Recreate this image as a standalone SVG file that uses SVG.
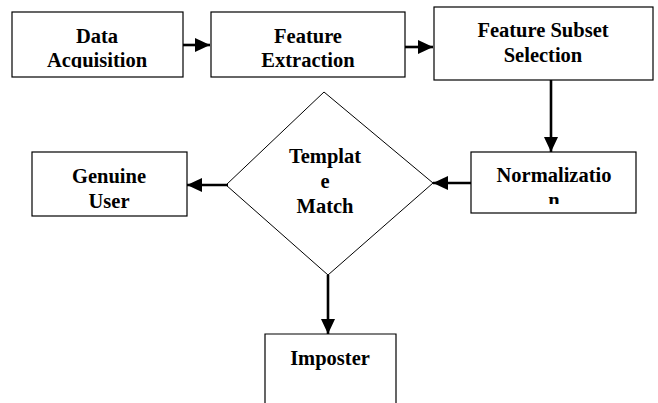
<svg xmlns="http://www.w3.org/2000/svg" width="658" height="403" viewBox="0 0 658 403">
<style>
.box{fill:#fff;stroke:#000;stroke-width:1.2}
.dia{fill:none;stroke:#000;stroke-width:1}
.t{font-family:'Liberation Serif','Times New Roman','DejaVu Serif',serif;font-weight:700;font-size:20.5px;fill:#000;text-anchor:middle}
.c{stroke:#000;stroke-width:2.6;fill:none}
</style>
<defs>
<marker id="ah" markerUnits="userSpaceOnUse" markerWidth="16" markerHeight="16" viewBox="0 0 16 16" refX="15" refY="8" orient="auto">
<path d="M0,1 L15,8 L0,15 Z" fill="#000"/>
</marker>
<clipPath id="c1"><rect x="12" y="12" width="171" height="56"/></clipPath>
<clipPath id="c2"><rect x="32" y="152" width="155" height="57"/></clipPath>
<clipPath id="c3"><rect x="471" y="152" width="165" height="52"/></clipPath>
</defs>
<g id="data-acquisition">
<rect class="box" x="12" y="12" width="171" height="65"/>
<text class="t" x="97" y="43" clip-path="url(#c1)">Data</text>
<text class="t" x="97" y="67" clip-path="url(#c1)">Acquisition</text>
</g>
<g id="feature-extraction">
<rect class="box" x="211" y="12" width="194" height="65"/>
<text class="t" x="308" y="43">Feature</text>
<text class="t" x="308" y="67">Extraction</text>
</g>
<g id="feature-subset-selection">
<rect class="box" x="434" y="7" width="219" height="73"/>
<text class="t" x="543" y="37">Feature Subset</text>
<text class="t" x="543" y="62">Selection</text>
</g>
<g id="normalization">
<rect class="box" x="471" y="152" width="165" height="61"/>
<text class="t" x="554" y="182" clip-path="url(#c3)">Normalizatio</text>
<text class="t" x="554" y="207" clip-path="url(#c3)">n</text>
</g>
<g id="template-match">
<polygon class="dia" points="324,92 433,183 328,275 226,185"/>
<text class="t" x="325" y="163">Templat</text>
<text class="t" x="325" y="188">e</text>
<text class="t" x="325" y="213">Match</text>
</g>
<g id="genuine-user">
<rect class="box" x="32" y="152" width="155" height="64"/>
<text class="t" x="109" y="183" clip-path="url(#c2)">Genuine</text>
<text class="t" x="109" y="208" clip-path="url(#c2)">User</text>
</g>
<g id="imposter">
<path class="box" d="M265,404 L265,334 L396,334 L396,404"/>
<text class="t" x="330" y="365">Imposter</text>
</g>
<g id="connectors">
<line class="c" x1="183" y1="45" x2="210" y2="45" marker-end="url(#ah)"/>
<line class="c" x1="405" y1="47" x2="433" y2="47" marker-end="url(#ah)"/>
<line class="c" x1="551" y1="80" x2="551" y2="152" marker-end="url(#ah)"/>
<line class="c" x1="471" y1="183" x2="433" y2="183" marker-end="url(#ah)"/>
<line class="c" x1="228" y1="185" x2="187" y2="185" marker-end="url(#ah)"/>
<line class="c" x1="328" y1="275" x2="328" y2="334" marker-end="url(#ah)"/>
</g>
</svg>
